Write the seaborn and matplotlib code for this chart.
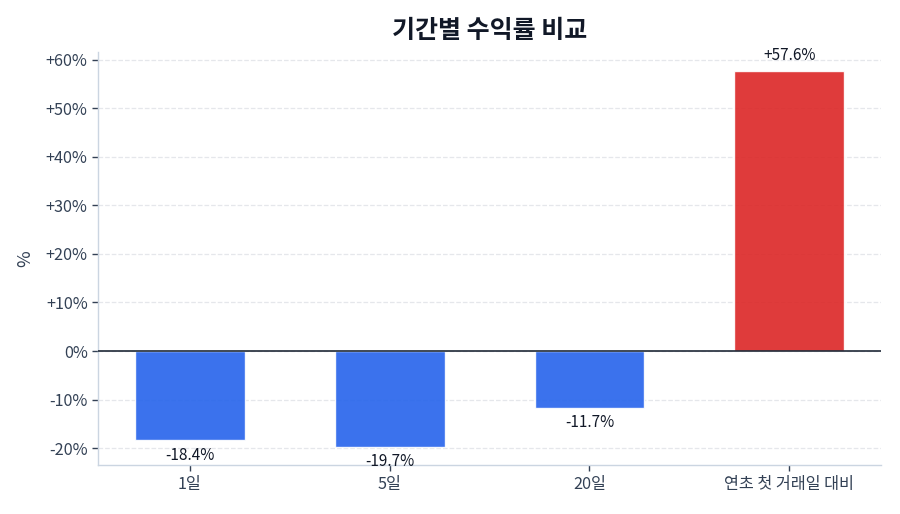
import numpy as np
import pandas as pd
import matplotlib
matplotlib.use('Agg')
import matplotlib.pyplot as plt
import seaborn as sns

sns.set_style('white')
plt.rcParams['font.family'] = ['Noto Sans CJK KR', 'DejaVu Sans']
plt.rcParams['axes.unicode_minus'] = False

periods = ['1일', '5일', '20일', '연초 첫 거래일 대비']
returns = [-18.4, -19.7, -11.7, 57.6]
colors = ['#2563eb' if v < 0 else '#dc2626' for v in returns]

df = pd.DataFrame({'period': periods, 'ret': returns})

fig = plt.figure(figsize=(9, 5.14), dpi=100)
ax = fig.add_axes([0.109, 0.095, 0.87, 0.804])

sns.barplot(data=df, x='period', y='ret', hue='period', palette=colors,
            width=0.55, alpha=0.9, legend=False, ax=ax, saturation=1)

ax.axhline(0, color='#1f2937', linewidth=1.2, zorder=3)
ax.yaxis.grid(True, linestyle='--', color='#e5e7eb', linewidth=0.9)
ax.set_axisbelow(True)

for i, v in enumerate(returns):
    if v >= 0:
        ax.text(i, v + 1.6, f'+{v:.1f}%', ha='center', va='bottom',
                fontsize=11, color='#111827')
    else:
        ax.text(i, v - 1.3, f'{v:.1f}%', ha='center', va='top',
                fontsize=11, color='#111827')

ax.set_ylim(-23.5, 61.6)
ax.set_xlim(-0.46, 3.46)
ax.set_yticks(np.arange(-20, 61, 10))
ax.set_yticklabels([f'+{t}%' if t > 0 else f'{t}%' for t in range(-20, 61, 10)])
ax.tick_params(axis='both', labelsize=11.7, colors='#334155', length=4,
               width=1, direction='out', left=True, bottom=True)

ax.set_xlabel('')
ax.set_ylabel('%', fontsize=13, color='#334155', labelpad=8)
for side in ['top', 'right']:
    ax.spines[side].set_visible(False)
for side in ['left', 'bottom']:
    ax.spines[side].set_color('#cbd5e1')
    ax.spines[side].set_linewidth(1)

ax.set_title('기간별 수익률 비교', fontsize=18, fontweight='bold',
             color='#111827', pad=10)

fig.savefig('out.png', dpi=100)
